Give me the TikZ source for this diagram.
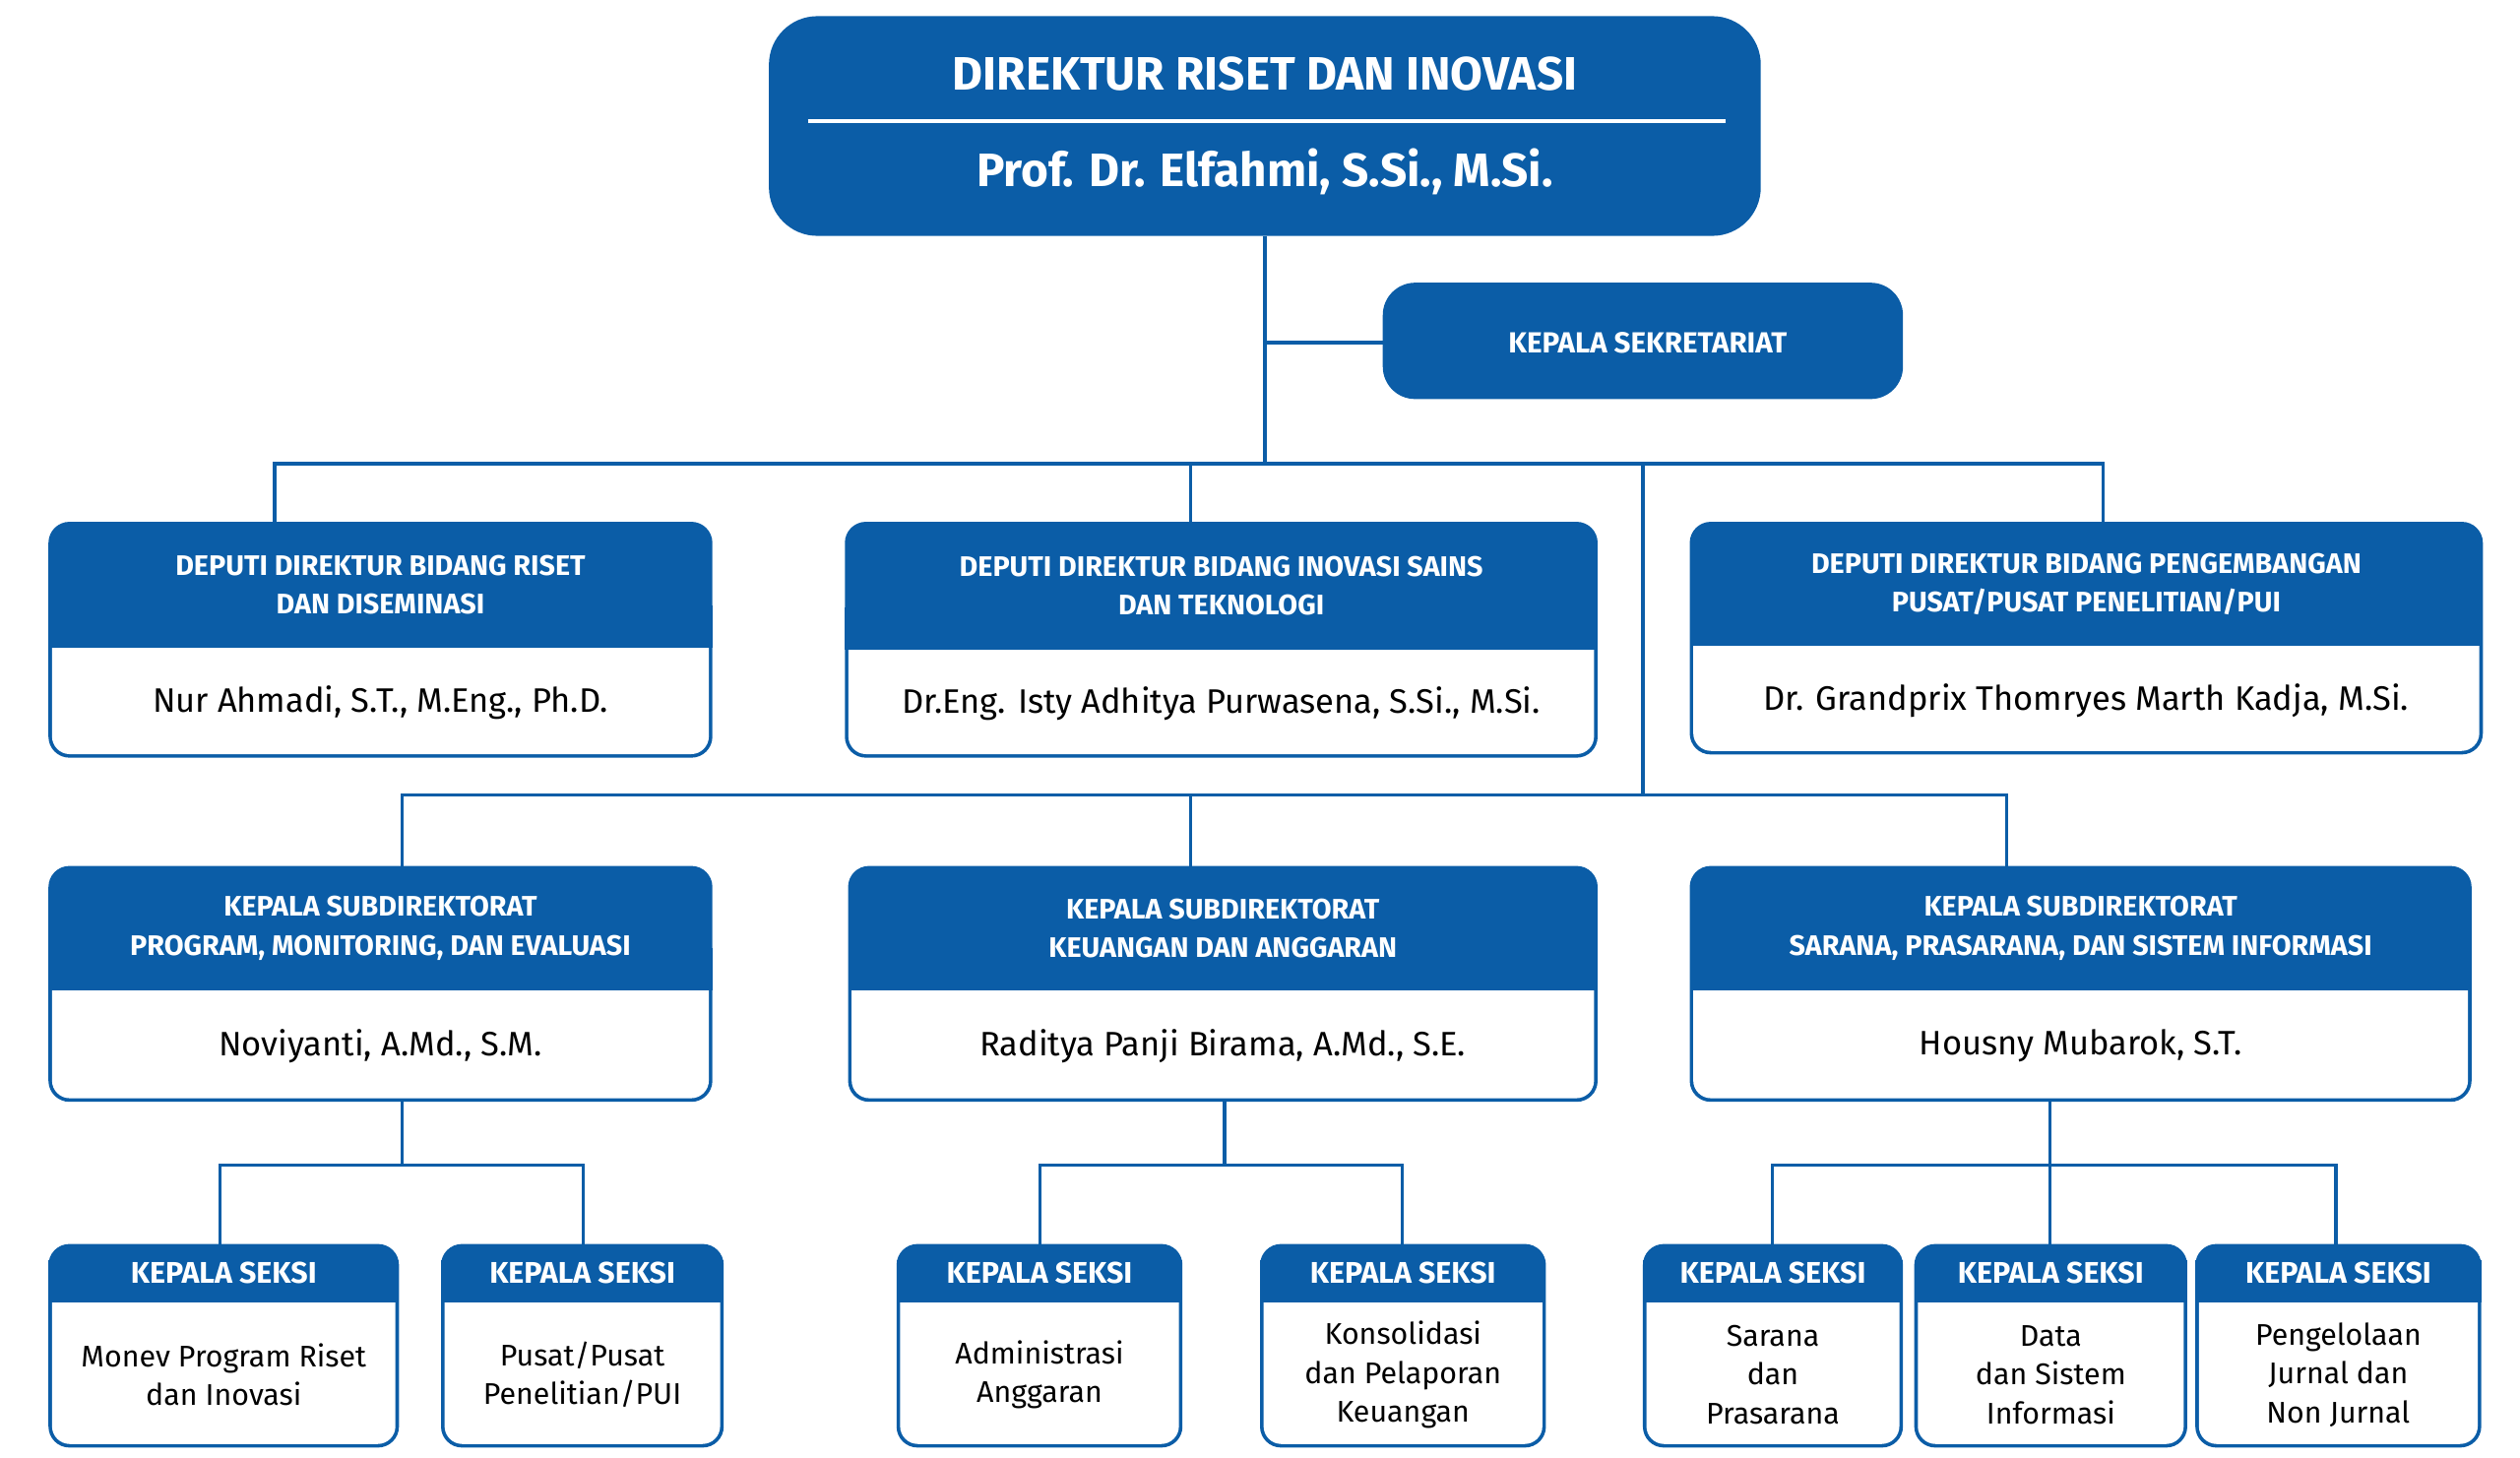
\documentclass[tikz,border=0pt]{standalone}
\usepackage{fontspec}
\setmainfont{Fira Sans}
\definecolor{ub}{HTML}{0B5DA7}
\newcommand\obox[8]{%
  \fill[ub,rounded corners=13pt] (#2,-#3) rectangle (#4,-#5);
  \fill[white,rounded corners=11pt] ({#2+2.2},{-#6+20}) rectangle ({#4-2.2},{-#5+2.2});
  \fill[ub] (#2,{-#6+26}) rectangle (#4,-#6);
  \node[hdr] (#1h) at ({(#2+#4)/2},{-(#3+#6)/2}) {#7};
  \node[body] (#1n) at ({(#2+#4)/2},{-(#6+#5)/2}) {#8};
  \coordinate (#1t) at ({(#2+#4)/2},-#3);
  \coordinate (#1b) at ({(#2+#4)/2},-#5);
}
\begin{document}
\begin{tikzpicture}[x=1pt,y=1pt,
  hdr/.style={text=white,font=\bfseries\fontsize{17.5}{24}\selectfont,align=center,inner sep=0},
  body/.style={text=black,font=\fontsize{21}{26}\selectfont,align=center,inner sep=0},
  line/.style={ub,line width=2pt}]
\useasboundingbox (0,0) rectangle (1560,-902);
% connectors
\coordinate (j1) at (783,-287);
\coordinate (j2) at (1017,-492);
\coordinate (js1) at (249,-721);
\coordinate (js2) at (758,-721);
\coordinate (js3) at (1269,-721);
\draw[line] (783,-146) -- (j1);
\draw[line] (783,-212) -- (856,-212);
\draw[line] (170,-323) |- (j1) -| (1302,-323);
\draw[line] (737,-287) -- (737,-323);
\draw[line] (1017,-287) -- (j2);
\draw[line] (249,-536) |- (j2) -| (1242,-536);
\draw[line] (737,-492) -- (737,-536);
\draw[line] (249,-682) -- (js1);
\draw[line] (136,-770) |- (js1) -| (361,-770);
\draw[line] (758,-682) -- (js2);
\draw[line] (644,-770) |- (js2) -| (868,-770);
\draw[line] (1269,-682) -- (js3);
\draw[line] (1097,-770) |- (js3) -| (1446,-770);
\draw[line] (1269,-721) -- (1269,-770);
% top
\fill[ub,rounded corners=30pt] (476,-10) rectangle (1090,-146);
\node[text=white,font=\bfseries\fontsize{29}{34}\selectfont,inner sep=0] (dirt) at (783,-46) {DIREKTUR RISET DAN INOVASI};
\draw[white,line width=2pt] (500,-75) -- (1068,-75);
\node[text=white,font=\bfseries\fontsize{29}{34}\selectfont,inner sep=0] (dirn) at (783,-106) {Prof. Dr. Elfahmi, S.Si., M.Si.};
\fill[ub,rounded corners=20pt] (856,-175) rectangle (1178,-247);
\node[text=white,font=\bfseries\fontsize{18}{24}\selectfont,inner sep=0] (sek) at (1020,-212) {KEPALA SEKRETARIAT};
% deputi
\obox{d1}{30}{323}{441}{469}{401}{DEPUTI DIREKTUR BIDANG RISET\\DAN DISEMINASI}{Nur Ahmadi, S.T., M.Eng., Ph.D.}
\obox{d2}{523}{323}{989}{469}{402}{DEPUTI DIREKTUR BIDANG INOVASI SAINS\\DAN TEKNOLOGI}{Dr.Eng. Isty Adhitya Purwasena, S.Si., M.Si.}
\obox{d3}{1046}{323}{1537}{467}{400}{DEPUTI DIREKTUR BIDANG PENGEMBANGAN\\PUSAT/PUSAT PENELITIAN/PUI}{Dr. Grandprix Thomryes Marth Kadja, M.Si.}
% subdir
\obox{s1}{30}{536}{441}{682}{613}{KEPALA SUBDIREKTORAT\\PROGRAM, MONITORING, DAN EVALUASI}{Noviyanti, A.Md., S.M.}
\obox{s2}{525}{536}{989}{682}{613}{KEPALA SUBDIREKTORAT\\KEUANGAN DAN ANGGARAN}{Raditya Panji Birama, A.Md., S.E.}
\obox{s3}{1046}{536}{1530}{682}{613}{KEPALA SUBDIREKTORAT\\SARANA, PRASARANA, DAN SISTEM INFORMASI}{Housny Mubarok, S.T.}
% seksi
\tikzset{body/.append style={font=\fontsize{18.5}{24}\selectfont},hdr/.append style={font=\bfseries\fontsize{18.5}{24}\selectfont}}
\obox{k1}{30}{770}{247}{896}{806}{KEPALA SEKSI}{Monev Program Riset\\dan Inovasi}
\obox{k2}{273}{770}{448}{896}{806}{KEPALA SEKSI}{Pusat/Pusat\\Penelitian/PUI}
\obox{k3}{555}{770}{732}{896}{806}{KEPALA SEKSI}{Administrasi\\Anggaran}
\obox{k4}{780}{770}{957}{896}{806}{KEPALA SEKSI}{Konsolidasi\\dan Pelaporan\\Keuangan}
\obox{k5}{1017}{770}{1178}{896}{806}{KEPALA SEKSI}{Sarana\\dan\\Prasarana}
\obox{k6}{1185}{770}{1354}{896}{806}{KEPALA SEKSI}{Data\\dan Sistem\\Informasi}
\obox{k7}{1359}{770}{1536}{896}{806}{KEPALA SEKSI}{Pengelolaan\\Jurnal dan\\Non Jurnal}
\end{tikzpicture}
\end{document}
